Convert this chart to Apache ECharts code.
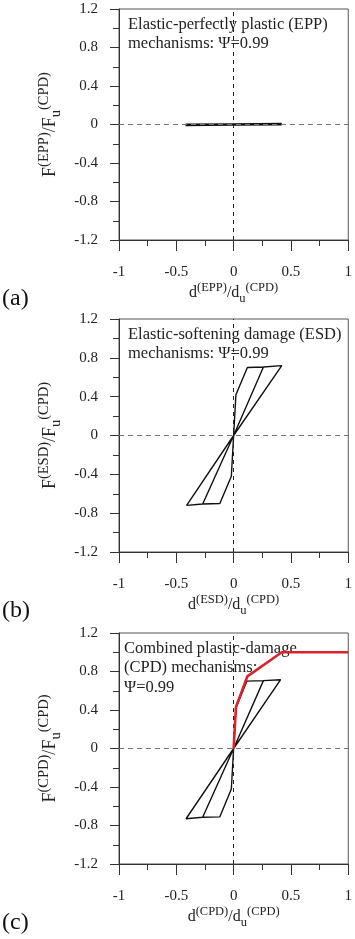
<!DOCTYPE html>
<html>
<head>
<meta charset="utf-8">
<script src="https://cdn.jsdelivr.net/npm/echarts@6/dist/echarts.min.js"></script>
<style>
html,body{margin:0;padding:0;background:#fff;}
#c{width:355px;height:939px;}
</style>
</head>
<body>
<div id="c"></div>
<script>
// ---- data ----
var xTicks = [-1, -0.5, 0, 0.5, 1];
var yTicks = [-1.2, -0.8, -0.4, 0, 0.4, 0.8, 1.2];

// (a) EPP hysteresis (force nearly zero)
var eppD = [0, 0.42, 0.42, 0, -0.42, -0.42, 0];
var eppF = [0, 0.004, 0.012, 0, -0.004, -0.012, 0];

// (b) ESD hysteresis
var esdD = [0, 0.02, 0.12, 0.26, 0, 0.26, 0.42, 0, -0.02, -0.12, -0.27, 0, -0.27, -0.41, 0];
var esdF = [0, 0.42, 0.70, 0.705, 0, 0.705, 0.72, 0, -0.42, -0.70, -0.705, 0, -0.705, -0.72, 0];

// (c) CPD: same loops + envelope
var cpdLoopD = [0, 0.02, 0.115, 0.26, 0, 0.26, 0.41, 0, -0.02, -0.12, -0.27, 0, -0.27, -0.415, 0];
var cpdLoopF = [0, 0.42, 0.70, 0.705, 0, 0.705, 0.715, 0, -0.42, -0.71, -0.715, 0, -0.715, -0.73, 0];
var cpdD = [0, 0.02, 0.12, 0.42, 1.0];
var cpdF = [0, 0.43, 0.75, 1.0, 1.0];

var labels = ['EPP', 'ESD', 'CPD'];
var notes = [
  ['Elastic-perfectly plastic (EPP)', 'mechanisms: \u03A8=0.99'],
  ['Elastic-softening damage (ESD)', 'mechanisms: \u03A8=0.99'],
  ['Combined plastic-damage', '(CPD) mechanisms:', '\u03A8=0.99']
];
var panelTags = ['(a)', '(b)', '(c)'];

function zip(a, b) { return a.map(function (v, i) { return [v, b[i]]; }); }

var FONT = '"Liberation Serif","Times New Roman",serif';
var grids = [
  {left: 119, right: 3, top: 9, height: 231},
  {left: 119, right: 3, top: 319, height: 233},
  {left: 119, right: 3, top: 633, height: 231}
];

var richX = {
  m: {fontSize: 16, fontFamily: FONT, color: '#222', lineHeight: 24, verticalAlign: 'middle'},
  sp: {fontSize: 12.5, fontFamily: FONT, color: '#222', lineHeight: 12, verticalAlign: 'top'},
  sb: {fontSize: 12.5, fontFamily: FONT, color: '#222', lineHeight: 12, verticalAlign: 'bottom'}
};
var richY = {
  m: {fontSize: 18, fontFamily: FONT, color: '#222', lineHeight: 27, verticalAlign: 'middle'},
  sp: {fontSize: 14.5, fontFamily: FONT, color: '#222', lineHeight: 14, verticalAlign: 'top'},
  sb: {fontSize: 14.5, fontFamily: FONT, color: '#222', lineHeight: 14, verticalAlign: 'bottom'}
};

var xAxes = [], yAxes = [], series = [], graphics = [];
grids.forEach(function (g, i) {
  g.show = true; g.borderColor = '#555'; g.borderWidth = 1; g.containLabel = false;
  var L = labels[i];
  xAxes.push({
    type: 'value', gridIndex: i, min: -1, max: 1, interval: 0.5,
    name: '{m|d}{sp|(' + L + ')}{m|/d}{sb|u}{sp|(CPD)}',
    nameLocation: 'middle', nameGap: 34,
    nameTextStyle: {rich: richX},
    axisLine: {onZero: false, lineStyle: {color: '#333', width: 1}},
    axisTick: {show: true, inside: false, length: 11, lineStyle: {color: '#333'}},
    minorTick: {show: true, splitNumber: 2, length: 6, lineStyle: {color: '#333'}},
    splitLine: {show: false},
    axisLabel: {margin: 25, fontSize: 15, fontFamily: FONT, color: '#222',
      formatter: function (v) { return String(Math.round(v * 100) / 100); }}
  });
  yAxes.push({
    type: 'value', gridIndex: i, min: -1.2, max: 1.2, interval: 0.4,
    name: '{m|F}{sp|(' + L + ')}{m|/F}{sb|u}{sp|(CPD)}',
    nameLocation: 'middle', nameGap: 38, nameRotate: 90,
    nameTextStyle: {rich: richY},
    axisLine: {onZero: false, lineStyle: {color: '#333', width: 1}},
    axisTick: {show: true, inside: false, length: 9, lineStyle: {color: '#333'}},
    minorTick: {show: true, splitNumber: 2, length: 6, lineStyle: {color: '#333'}},
    splitLine: {show: false},
    axisLabel: {margin: 21, fontSize: 15, fontFamily: FONT, color: '#222',
      formatter: function (v) { return String(Math.round(v * 10) / 10); }}
  });
  // zero reference lines
  series.push({
    type: 'line', xAxisIndex: i, yAxisIndex: i, data: [], silent: true,
    markLine: {
      silent: true, symbol: 'none', label: {show: false}, animation: false,
      data: [
        {xAxis: 0, lineStyle: {color: '#222', type: [4, 4], width: 1}},
        {yAxis: 0, lineStyle: {color: '#777', type: [5, 4], width: 1}}
      ]
    }
  });
  // notes
  notes[i].forEach(function (t, k) {
    graphics.push({
      type: 'text', left: (i === 2 ? 124 : 128), top: g.top + 7 + k * 19.5,
      style: {text: t, font: '16.5px ' + FONT, fill: '#222'}
    });
  });
  graphics.push({
    type: 'text', left: 2, top: g.top + g.height + 47,
    style: {text: panelTags[i], font: '24px ' + FONT, fill: '#111'}
  });
});

series.push({type: 'line', xAxisIndex: 0, yAxisIndex: 0, data: zip(eppD, eppF),
  symbol: 'none', animation: false, lineStyle: {color: '#111', width: 2.6}});
series.push({type: 'line', xAxisIndex: 1, yAxisIndex: 1, data: zip(esdD, esdF),
  symbol: 'none', animation: false, lineStyle: {color: '#111', width: 1.4}});
series.push({type: 'line', xAxisIndex: 2, yAxisIndex: 2, data: zip(cpdLoopD, cpdLoopF),
  symbol: 'none', animation: false, lineStyle: {color: '#111', width: 1.4}});
series.push({type: 'line', xAxisIndex: 2, yAxisIndex: 2, data: zip(cpdD, cpdF),
  symbol: 'none', animation: false, z: 5, lineStyle: {color: '#d9232a', width: 2.6}});

var chart = echarts.init(document.getElementById('c'), null, {renderer: 'canvas'});
chart.setOption({
  backgroundColor: '#fff',
  animation: false,
  grid: grids,
  xAxis: xAxes,
  yAxis: yAxes,
  series: series,
  graphic: graphics
});
</script>
</body>
</html>
